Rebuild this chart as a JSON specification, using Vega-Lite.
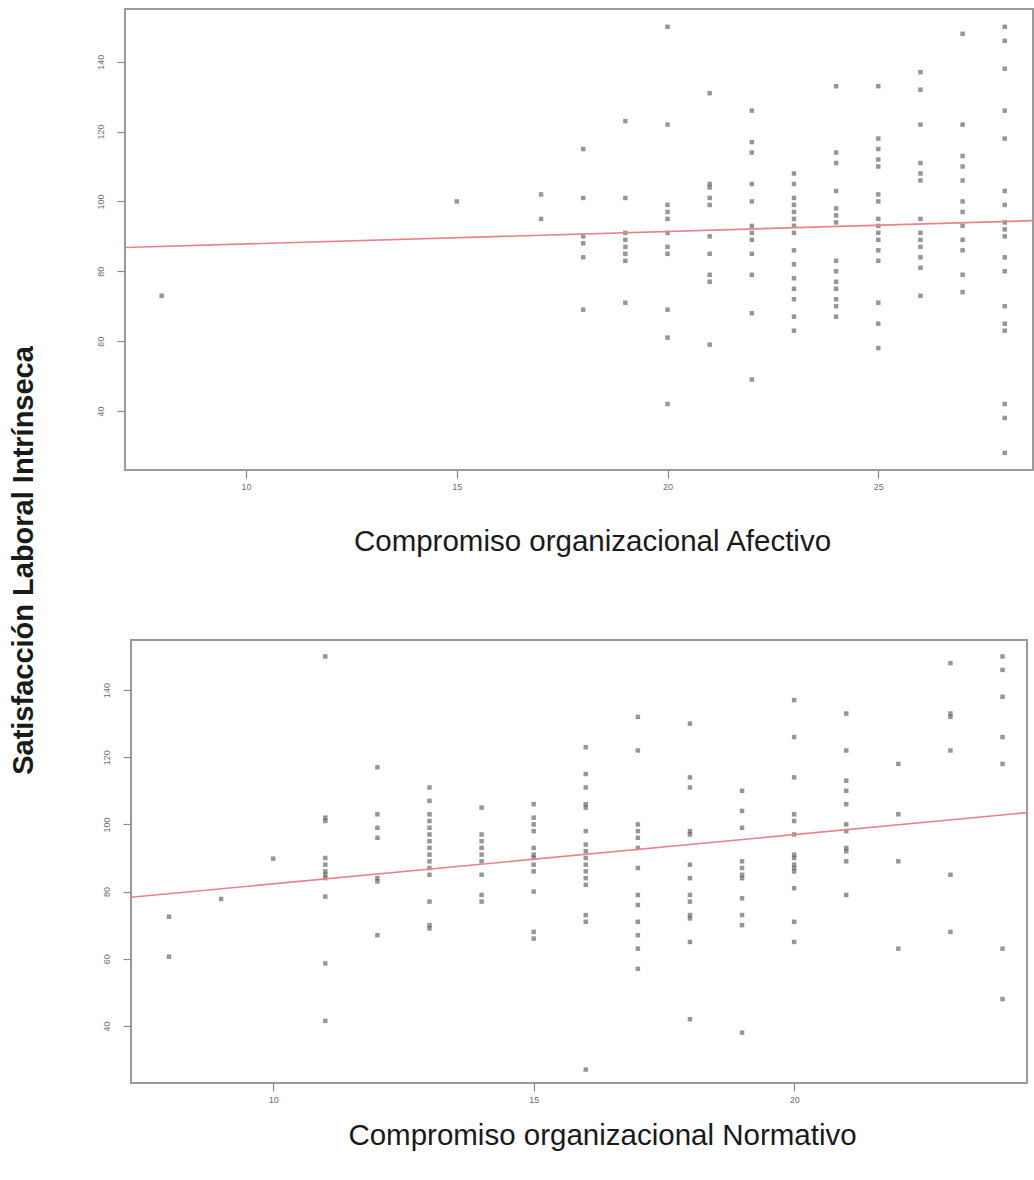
{
  "$schema": "https://vega.github.io/schema/vega-lite/v6.json",
  "padding": {"left": 8, "top": 8, "right": 0, "bottom": 0},
  "background": "white",
  "bounds": "flush",
  "center": true,
  "spacing": 170,
  "config": {
    "view": {"stroke": "#9a9a9a", "strokeWidth": 2},
    "axis": {
      "grid": false, "domain": false, "tickColor": "#8a8a8a", "tickSize": 8, "tickWidth": 1.2,
      "labelColor": "#6f6f6f", "labelFont": "Liberation Sans", "labelFontSize": 9,
      "titleFont": "Liberation Sans", "titleColor": "#1a1a1a"
    }
  },
  "datasets": {
    "afectivo": [
      {"x": 8, "y": 73},
      {"x": 15, "y": 100},
      {"x": 17, "y": 102}, {"x": 17, "y": 95},
      {"x": 18, "y": 115}, {"x": 18, "y": 101}, {"x": 18, "y": 90}, {"x": 18, "y": 88}, {"x": 18, "y": 84}, {"x": 18, "y": 69},
      {"x": 19, "y": 123}, {"x": 19, "y": 101}, {"x": 19, "y": 91}, {"x": 19, "y": 89}, {"x": 19, "y": 87}, {"x": 19, "y": 85}, {"x": 19, "y": 83}, {"x": 19, "y": 71},
      {"x": 20, "y": 150}, {"x": 20, "y": 122}, {"x": 20, "y": 99}, {"x": 20, "y": 97}, {"x": 20, "y": 95}, {"x": 20, "y": 91}, {"x": 20, "y": 87}, {"x": 20, "y": 85}, {"x": 20, "y": 69}, {"x": 20, "y": 61}, {"x": 20, "y": 42},
      {"x": 21, "y": 131}, {"x": 21, "y": 105}, {"x": 21, "y": 104}, {"x": 21, "y": 101}, {"x": 21, "y": 99}, {"x": 21, "y": 90}, {"x": 21, "y": 85}, {"x": 21, "y": 79}, {"x": 21, "y": 77}, {"x": 21, "y": 59},
      {"x": 22, "y": 126}, {"x": 22, "y": 117}, {"x": 22, "y": 114}, {"x": 22, "y": 105}, {"x": 22, "y": 100}, {"x": 22, "y": 93}, {"x": 22, "y": 91}, {"x": 22, "y": 89}, {"x": 22, "y": 85}, {"x": 22, "y": 79}, {"x": 22, "y": 68}, {"x": 22, "y": 49},
      {"x": 23, "y": 108}, {"x": 23, "y": 105}, {"x": 23, "y": 101}, {"x": 23, "y": 99}, {"x": 23, "y": 97}, {"x": 23, "y": 95}, {"x": 23, "y": 93}, {"x": 23, "y": 91}, {"x": 23, "y": 86}, {"x": 23, "y": 82}, {"x": 23, "y": 78}, {"x": 23, "y": 75}, {"x": 23, "y": 72}, {"x": 23, "y": 67}, {"x": 23, "y": 63},
      {"x": 24, "y": 133}, {"x": 24, "y": 114}, {"x": 24, "y": 111}, {"x": 24, "y": 103}, {"x": 24, "y": 98}, {"x": 24, "y": 96}, {"x": 24, "y": 94}, {"x": 24, "y": 83}, {"x": 24, "y": 80}, {"x": 24, "y": 77}, {"x": 24, "y": 75}, {"x": 24, "y": 72}, {"x": 24, "y": 70}, {"x": 24, "y": 67},
      {"x": 25, "y": 133}, {"x": 25, "y": 118}, {"x": 25, "y": 115}, {"x": 25, "y": 112}, {"x": 25, "y": 110}, {"x": 25, "y": 102}, {"x": 25, "y": 100}, {"x": 25, "y": 95}, {"x": 25, "y": 93}, {"x": 25, "y": 91}, {"x": 25, "y": 89}, {"x": 25, "y": 86}, {"x": 25, "y": 83}, {"x": 25, "y": 71}, {"x": 25, "y": 65}, {"x": 25, "y": 58},
      {"x": 26, "y": 137}, {"x": 26, "y": 132}, {"x": 26, "y": 122}, {"x": 26, "y": 111}, {"x": 26, "y": 108}, {"x": 26, "y": 106}, {"x": 26, "y": 95}, {"x": 26, "y": 91}, {"x": 26, "y": 89}, {"x": 26, "y": 87}, {"x": 26, "y": 84}, {"x": 26, "y": 81}, {"x": 26, "y": 73},
      {"x": 27, "y": 148}, {"x": 27, "y": 122}, {"x": 27, "y": 113}, {"x": 27, "y": 110}, {"x": 27, "y": 106}, {"x": 27, "y": 100}, {"x": 27, "y": 97}, {"x": 27, "y": 93}, {"x": 27, "y": 89}, {"x": 27, "y": 86}, {"x": 27, "y": 79}, {"x": 27, "y": 74},
      {"x": 28, "y": 150}, {"x": 28, "y": 146}, {"x": 28, "y": 138}, {"x": 28, "y": 126}, {"x": 28, "y": 118}, {"x": 28, "y": 103}, {"x": 28, "y": 99}, {"x": 28, "y": 94}, {"x": 28, "y": 92}, {"x": 28, "y": 90}, {"x": 28, "y": 84}, {"x": 28, "y": 80}, {"x": 28, "y": 70}, {"x": 28, "y": 65}, {"x": 28, "y": 63}, {"x": 28, "y": 42}, {"x": 28, "y": 38}, {"x": 28, "y": 28}
    ],
    "normativo": [
      {"x": 8, "y": 72.5}, {"x": 8, "y": 60.6},
      {"x": 9, "y": 77.8},
      {"x": 10, "y": 89.8},
      {"x": 11, "y": 150}, {"x": 11, "y": 102}, {"x": 11, "y": 101}, {"x": 11, "y": 90}, {"x": 11, "y": 88}, {"x": 11, "y": 86}, {"x": 11, "y": 85}, {"x": 11, "y": 84}, {"x": 11, "y": 78.5}, {"x": 11, "y": 58.6}, {"x": 11, "y": 41.5},
      {"x": 12, "y": 117}, {"x": 12, "y": 103}, {"x": 12, "y": 99}, {"x": 12, "y": 96}, {"x": 12, "y": 84}, {"x": 12, "y": 83}, {"x": 12, "y": 67},
      {"x": 13, "y": 111}, {"x": 13, "y": 107}, {"x": 13, "y": 103}, {"x": 13, "y": 101}, {"x": 13, "y": 99}, {"x": 13, "y": 97}, {"x": 13, "y": 95}, {"x": 13, "y": 93}, {"x": 13, "y": 91}, {"x": 13, "y": 89}, {"x": 13, "y": 87}, {"x": 13, "y": 85}, {"x": 13, "y": 77}, {"x": 13, "y": 70}, {"x": 13, "y": 69},
      {"x": 14, "y": 105}, {"x": 14, "y": 97}, {"x": 14, "y": 95}, {"x": 14, "y": 93}, {"x": 14, "y": 91}, {"x": 14, "y": 89}, {"x": 14, "y": 85}, {"x": 14, "y": 79}, {"x": 14, "y": 77},
      {"x": 15, "y": 106}, {"x": 15, "y": 102}, {"x": 15, "y": 100}, {"x": 15, "y": 98}, {"x": 15, "y": 93}, {"x": 15, "y": 91}, {"x": 15, "y": 90}, {"x": 15, "y": 88}, {"x": 15, "y": 86}, {"x": 15, "y": 80}, {"x": 15, "y": 68}, {"x": 15, "y": 66},
      {"x": 16, "y": 123}, {"x": 16, "y": 115}, {"x": 16, "y": 111}, {"x": 16, "y": 106}, {"x": 16, "y": 105}, {"x": 16, "y": 98}, {"x": 16, "y": 94}, {"x": 16, "y": 92}, {"x": 16, "y": 90}, {"x": 16, "y": 88}, {"x": 16, "y": 86}, {"x": 16, "y": 84}, {"x": 16, "y": 82}, {"x": 16, "y": 73}, {"x": 16, "y": 71}, {"x": 16, "y": 27},
      {"x": 17, "y": 132}, {"x": 17, "y": 122}, {"x": 17, "y": 100}, {"x": 17, "y": 98}, {"x": 17, "y": 96}, {"x": 17, "y": 93}, {"x": 17, "y": 87}, {"x": 17, "y": 79}, {"x": 17, "y": 76}, {"x": 17, "y": 71}, {"x": 17, "y": 67}, {"x": 17, "y": 63}, {"x": 17, "y": 57},
      {"x": 18, "y": 130}, {"x": 18, "y": 114}, {"x": 18, "y": 111}, {"x": 18, "y": 98}, {"x": 18, "y": 97}, {"x": 18, "y": 88}, {"x": 18, "y": 84}, {"x": 18, "y": 79}, {"x": 18, "y": 77}, {"x": 18, "y": 73}, {"x": 18, "y": 72}, {"x": 18, "y": 65}, {"x": 18, "y": 42},
      {"x": 19, "y": 110}, {"x": 19, "y": 104}, {"x": 19, "y": 99}, {"x": 19, "y": 89}, {"x": 19, "y": 87}, {"x": 19, "y": 85}, {"x": 19, "y": 84}, {"x": 19, "y": 78}, {"x": 19, "y": 73}, {"x": 19, "y": 70}, {"x": 19, "y": 38},
      {"x": 20, "y": 137}, {"x": 20, "y": 126}, {"x": 20, "y": 114}, {"x": 20, "y": 103}, {"x": 20, "y": 101}, {"x": 20, "y": 97}, {"x": 20, "y": 91}, {"x": 20, "y": 90}, {"x": 20, "y": 88}, {"x": 20, "y": 87}, {"x": 20, "y": 86}, {"x": 20, "y": 81}, {"x": 20, "y": 71}, {"x": 20, "y": 65},
      {"x": 21, "y": 133}, {"x": 21, "y": 122}, {"x": 21, "y": 113}, {"x": 21, "y": 110}, {"x": 21, "y": 106}, {"x": 21, "y": 100}, {"x": 21, "y": 98}, {"x": 21, "y": 93}, {"x": 21, "y": 92}, {"x": 21, "y": 89}, {"x": 21, "y": 79},
      {"x": 22, "y": 118}, {"x": 22, "y": 103}, {"x": 22, "y": 89}, {"x": 22, "y": 63},
      {"x": 23, "y": 148}, {"x": 23, "y": 133}, {"x": 23, "y": 132}, {"x": 23, "y": 122}, {"x": 23, "y": 85}, {"x": 23, "y": 68},
      {"x": 24, "y": 150}, {"x": 24, "y": 146}, {"x": 24, "y": 138}, {"x": 24, "y": 126}, {"x": 24, "y": 118}, {"x": 24, "y": 63}, {"x": 24, "y": 48}
    ],
    "fitA": [{"x": 7.13, "y": 86.8}, {"x": 28.67, "y": 94.5}],
    "fitN": [{"x": 7.27, "y": 78.3}, {"x": 24.47, "y": 103.5}]
  },
  "vconcat": [
    {
      "width": 908,
      "height": 461,
      "layer": [
        {
          "data": {"name": "afectivo"},
          "mark": {"type": "square", "size": 20, "color": "#555555", "opacity": 0.62},
          "encoding": {
            "x": {
              "field": "x", "type": "quantitative",
              "scale": {"domain": [7.13, 28.67], "nice": false, "zero": false},
              "axis": {
                "values": [10, 15, 20, 25], "labelPadding": 4,
                "title": "Compromiso organizacional Afectivo",
                "titleX": 467, "titleY": 80, "titleAlign": "center", "titleBaseline": "alphabetic",
                "titleFontSize": 29.5, "titleFontWeight": "normal"
              }
            },
            "y": {
              "field": "y", "type": "quantitative",
              "scale": {"domain": [23.1, 155.1], "nice": false, "zero": false},
              "axis": {
                "values": [40, 60, 80, 100, 120, 140],
                "labelAngle": 270, "labelAlign": "center", "labelBaseline": "bottom", "labelPadding": 12,
                "title": "Satisfacción Laboral Intrínseca",
                "titleAngle": 270, "titleX": -102, "titleY": 551, "titleAlign": "center", "titleBaseline": "middle",
                "titleFontSize": 29, "titleFontWeight": "bold"
              }
            }
          }
        },
        {
          "data": {"name": "fitA"},
          "mark": {"type": "line", "color": "#e8838c", "strokeWidth": 1.6},
          "encoding": {
            "x": {"field": "x", "type": "quantitative"},
            "y": {"field": "y", "type": "quantitative"}
          }
        }
      ]
    },
    {
      "width": 896,
      "height": 443,
      "layer": [
        {
          "data": {"name": "normativo"},
          "mark": {"type": "square", "size": 20, "color": "#555555", "opacity": 0.62},
          "encoding": {
            "x": {
              "field": "x", "type": "quantitative",
              "scale": {"domain": [7.27, 24.47], "nice": false, "zero": false},
              "axis": {
                "values": [10, 15, 20], "labelPadding": 4,
                "title": "Compromiso organizacional Normativo",
                "titleX": 471, "titleY": 61, "titleAlign": "center", "titleBaseline": "alphabetic",
                "titleFontSize": 29.5, "titleFontWeight": "normal"
              }
            },
            "y": {
              "field": "y", "type": "quantitative",
              "scale": {"domain": [23.0, 154.9], "nice": false, "zero": false},
              "axis": {
                "values": [40, 60, 80, 100, 120, 140],
                "labelAngle": 270, "labelAlign": "center", "labelBaseline": "bottom", "labelPadding": 12,
                "title": null
              }
            }
          }
        },
        {
          "data": {"name": "fitN"},
          "mark": {"type": "line", "color": "#e8838c", "strokeWidth": 1.6},
          "encoding": {
            "x": {"field": "x", "type": "quantitative"},
            "y": {"field": "y", "type": "quantitative"}
          }
        }
      ]
    }
  ]
}
